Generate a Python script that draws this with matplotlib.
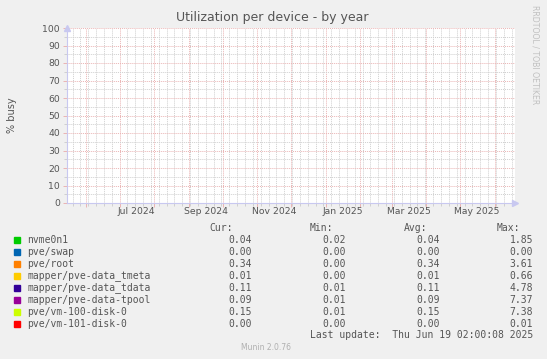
"""Munin disk utilization graph, yearly view."""

from datetime import datetime, timedelta

import matplotlib
matplotlib.use("Agg")
import matplotlib.dates as mdates
import matplotlib.pyplot as plt
from matplotlib.patches import Rectangle


W, H = 547, 359
END = datetime(2025, 6, 19, 2, 0, 8)
START = END - timedelta(days=400)

DEVICES = [
    "nvme0n1",
    "pve/swap",
    "pve/root",
    "mapper/pve-data_tmeta",
    "mapper/pve-data_tdata",
    "mapper/pve-data-tpool",
    "pve/vm-100-disk-0",
    "pve/vm-101-disk-0",
]
COLORS = ["#00cc00", "#0066b3", "#ff8000", "#ffcc00",
          "#330099", "#990099", "#ccff00", "#ff0000"]
CUR = [0.04, 0.00, 0.34, 0.01, 0.11, 0.09, 0.15, 0.00]
MIN = [0.02, 0.00, 0.00, 0.00, 0.01, 0.01, 0.01, 0.00]
AVG = [0.04, 0.00, 0.34, 0.01, 0.11, 0.09, 0.15, 0.00]
MAX = [1.85, 0.00, 3.61, 0.66, 4.78, 7.37, 7.38, 0.01]

MONTH_LABELS = ["Jul 2024", "Sep 2024", "Nov 2024", "Jan 2025", "Mar 2025", "May 2025"]
LABEL_DATES = [datetime(2024, 7, 16), datetime(2024, 9, 16), datetime(2024, 11, 16),
               datetime(2025, 1, 16), datetime(2025, 3, 16), datetime(2025, 5, 16)]

TEXT = "#555555"
MAJOR = "#eab4b4"
MINOR = "#cfcfcf"
AXIS = "#c8c8f0"


def fx(x):
    return x / W


def fy(y):
    return 1 - y / H


def main():
    fig = plt.figure(figsize=(W / 100, H / 100), dpi=100, facecolor="#f0f0f0")
    ax = fig.add_axes([fx(67), fy(203), (515 - 67) / W, (203 - 28) / H])
    ax.set_facecolor("white")
    ax.set_xlim(mdates.date2num(START), mdates.date2num(END))
    ax.set_ylim(0, 100)

    # grids: monthly / 10 % major, weekly / 5 % minor
    ax.xaxis.set_major_locator(mdates.MonthLocator())
    ax.xaxis.set_minor_locator(mdates.WeekdayLocator(byweekday=mdates.MO))
    ax.xaxis.set_major_formatter(plt.NullFormatter())
    ax.set_yticks(range(0, 101, 10))
    ax.set_yticks(range(5, 100, 10), minor=True)
    dot = (0, (1, 1))
    ax.grid(which="minor", color=MINOR, linestyle=dot, linewidth=0.7)
    ax.grid(which="major", color=MAJOR, linestyle=dot, linewidth=0.7)
    ax.set_axisbelow(True)
    ax.tick_params(axis="both", which="major", color=MAJOR, length=3, width=0.7,
                   labelsize=6.7, labelcolor=TEXT, pad=2)
    ax.tick_params(axis="both", which="minor", color=MINOR, length=2, width=0.7)
    for side in ["top", "right"]:
        ax.spines[side].set_visible(False)
    for side in ["left", "bottom"]:
        ax.spines[side].set_color(AXIS)
        ax.spines[side].set_linewidth(0.8)

    # axis arrows
    ax.plot(1, 0, ">", color=AXIS, markersize=5, transform=ax.transAxes, clip_on=False)
    ax.plot(0, 1, "^", color=AXIS, markersize=5, transform=ax.transAxes, clip_on=False)

    for label, d in zip(MONTH_LABELS, LABEL_DATES):
        ax.text(mdates.date2num(d), -0.05, label, transform=ax.get_xaxis_transform(),
                ha="center", va="center", fontsize=6.7, color=TEXT)

    fig.text(fx(272), fy(18), "Utilization per device - by year",
             ha="center", va="center", fontsize=9, color=TEXT)
    fig.text(fx(12), fy(115), "% busy", rotation=90, ha="center", va="center",
             fontsize=7, color=TEXT)
    fig.text(fx(535), fy(55), "RRDTOOL / TOBI OETIKER", rotation=-90,
             ha="center", va="center", fontsize=5.6, color="#c0c0c0")

    # legend table
    mono = "DejaVu Sans Mono"
    fs = 7.0
    fig.text(fx(233), fy(228), "Cur:", ha="right", va="center",
             family=mono, fontsize=fs, color=TEXT)
    fig.text(fx(333), fy(228), "Min:", ha="right", va="center",
             family=mono, fontsize=fs, color=TEXT)
    fig.text(fx(427), fy(228), "Avg:", ha="right", va="center",
             family=mono, fontsize=fs, color=TEXT)
    fig.text(fx(520), fy(228), "Max:", ha="right", va="center",
             family=mono, fontsize=fs, color=TEXT)
    for i, name in enumerate(DEVICES):
        y = 240 + 12 * i
        fig.patches.append(Rectangle((fx(14), fy(y + 3)), 6 / W, 6 / H,
                                     transform=fig.transFigure, color=COLORS[i]))
        fig.text(fx(27), fy(y), name, ha="left", va="center",
                 family=mono, fontsize=fs, color=TEXT)
        for col, xr in zip([CUR, MIN, AVG, MAX], [252, 346, 440, 533]):
            fig.text(fx(xr), fy(y), f"{col[i]:.2f}", ha="right", va="center",
                     family=mono, fontsize=fs, color=TEXT)
    fig.text(fx(533), fy(335), "Last update:  Thu Jun 19 02:00:08 2025",
             ha="right", va="center", family=mono, fontsize=fs, color=TEXT)
    fig.text(fx(266), fy(348), "Munin 2.0.76", ha="center", va="center",
             fontsize=5.5, color="#b0b0b0")

    fig.savefig("out.png", dpi=100, facecolor=fig.get_facecolor())


if __name__ == "__main__":
    main()
